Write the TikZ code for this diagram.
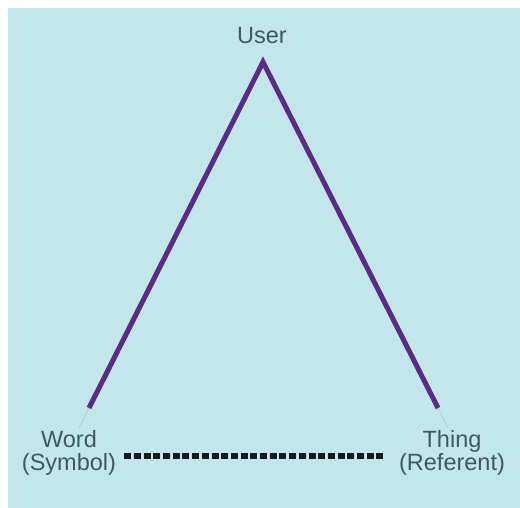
\documentclass[tikz,border=0pt]{standalone}
\usepackage{fontspec}
\setmainfont{Liberation Sans}
\usepackage{tikz}
\usetikzlibrary{calc}

\definecolor{bgcyan}{HTML}{C3E6EA}
\definecolor{edgepurple}{HTML}{5B2C85}
\definecolor{labelgrey}{HTML}{3E5A5E}
\definecolor{faintgreen}{HTML}{A6D9C6}
\definecolor{dotblack}{HTML}{151A1E}

\begin{document}
\begin{tikzpicture}
[   x=1pt, y=-1pt,
    lbl/.style={text=labelgrey, inner sep=0pt, align=center, font=\fontsize{23.5}{23.5}\selectfont},
    edge/.style={draw=edgepurple, line width=5pt},
    faint/.style={draw=faintgreen, line width=1pt},
    dotline/.style={draw=dotblack, line width=6.5pt, dash pattern=on 7pt off 2.7pt}, ]

    \useasboundingbox (0,0) rectangle (520,508);
    \fill[bgcyan] (8,8) rectangle (520,508);

    \node[lbl, anchor=base] (user) at (262,44) {User};
    \node[lbl] (word) at (69,453) {Word\\(Symbol)};
    \node[lbl] (thing) at (452,453) {Thing\\(Referent)};

    \coordinate (top) at (263,62);
    \coordinate (wordend) at (89,408);
    \coordinate (thingend) at (438,408);
    \coordinate (wordtip) at (79,428);
    \coordinate (thingtip) at (448,428);

    % faint ends under the labels
    \draw[faint] (wordend) -- (wordtip);
    \draw[faint] (thingend) -- (thingtip);

    \draw[edge] (wordend) -- (top) -- (thingend);

    \draw[dotline] ([xshift=8pt,yshift=-3pt]word.east) -- ([xshift=-13pt,yshift=-3pt]thing.west);

\end{tikzpicture}
\end{document}
